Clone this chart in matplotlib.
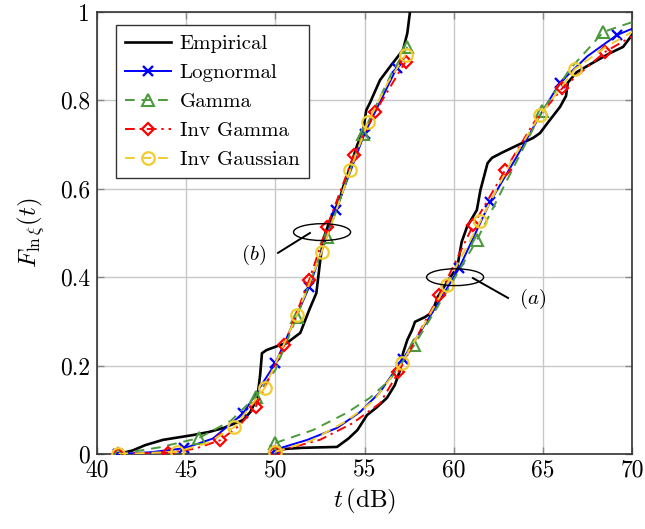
import matplotlib
matplotlib.use("Agg")
import matplotlib.pyplot as plt
from matplotlib.patches import Ellipse

plt.rcParams['font.family'] = ['cmr10', 'DejaVu Serif']
plt.rcParams['mathtext.fontset'] = 'cm'
plt.rcParams['axes.formatter.use_mathtext'] = True

# ---------------- data: curve set (b) ----------------
emp_b_x = [41.2, 42.0, 42.7, 43.7, 45.4, 46.3, 47.1, 48.2, 48.6, 49.0, 49.15, 49.25, 49.5, 50.3, 50.65, 51.0,
           51.4, 51.9, 52.3, 52.5, 52.67, 53.07, 53.6, 53.8, 54.2, 54.6, 54.9, 55.1, 55.3, 55.87, 56.5, 57.16,
           57.4, 57.55]
emp_b_y = [0.0, 0.008, 0.02, 0.032, 0.043, 0.05, 0.059, 0.077, 0.095, 0.129, 0.18, 0.228, 0.235, 0.247, 0.251,
           0.262, 0.274, 0.326, 0.364, 0.432, 0.484, 0.53, 0.575, 0.604, 0.65, 0.70, 0.726, 0.778, 0.794, 0.846,
           0.88, 0.914, 0.952, 1.0]

logn_b_x = [41.2, 43.0, 44.9, 46.5, 48.2, 50.0, 51.9, 53.4, 55.0, 56.8, 57.3]
logn_b_y = [0.0, 0.004, 0.013, 0.035, 0.092, 0.205, 0.378, 0.552, 0.725, 0.873, 0.90]
logn_b_mk = [0, 2, 4, 5, 6, 7, 8, 9]

gam_b_x = [41.2, 43.5, 45.7, 47.5, 48.9, 50.0, 51.2, 52.9, 54.9, 56.5, 57.4]
gam_b_y = [0.0, 0.015, 0.036, 0.075, 0.13, 0.19, 0.31, 0.49, 0.725, 0.86, 0.921]
gam_b_mk = [0, 2, 4, 6, 7, 8, 10]

igam_b_x = [41.2, 44.0, 45.5, 46.9, 48.0, 48.9, 50.5, 51.9, 52.9, 54.4, 55.6, 57.3]
igam_b_y = [0.0, 0.003, 0.012, 0.031, 0.065, 0.107, 0.246, 0.394, 0.514, 0.676, 0.774, 0.888]
igam_b_mk = [0, 1, 3, 5, 6, 7, 8, 9, 10, 11]

igau_b_x = [41.2, 44.5, 46.2, 47.7, 49.4, 51.2, 52.6, 54.2, 55.2, 56.3, 57.3]
igau_b_y = [0.0, 0.005, 0.025, 0.061, 0.149, 0.314, 0.457, 0.642, 0.752, 0.84, 0.903]
igau_b_mk = [0, 1, 3, 4, 5, 6, 7, 8, 10]

# ---------------- data: curve set (a) ----------------
emp_a_x = [50.0, 51.5, 53.46, 54.1, 54.6, 55.14, 55.7, 56.26, 56.7, 57.0, 57.16, 57.4, 57.66, 57.83, 58.4, 58.8,
           59.1, 59.6, 60.2, 60.45, 60.75, 61.3, 61.5, 61.9, 62.15, 62.77, 63.6, 64.45, 64.84, 65.4, 65.96, 66.3,
           66.4, 66.9, 67.8, 68.77, 69.5, 70.0]
emp_a_y = [0.01, 0.014, 0.016, 0.035, 0.054, 0.088, 0.106, 0.127, 0.156, 0.19, 0.228, 0.258, 0.28, 0.299, 0.31,
           0.321, 0.355, 0.387, 0.423, 0.48, 0.514, 0.552, 0.597, 0.658, 0.67, 0.683, 0.699, 0.715, 0.726, 0.756,
           0.785, 0.81, 0.84, 0.864, 0.885, 0.907, 0.921, 0.948]

logn_a_x = [50.0, 51.8, 53.46, 54.75, 55.87, 57.16, 58.5, 60.3, 62.04, 63.5, 64.9, 65.96, 67.5, 69.16, 70.0]
logn_a_y = [0.01, 0.032, 0.059, 0.095, 0.14, 0.215, 0.30, 0.42, 0.57, 0.67, 0.77, 0.84, 0.90, 0.948, 0.962]
logn_a_mk = [0, 5, 7, 8, 11, 13]

gam_a_x = [50.0, 52.1, 54.0, 55.3, 56.4, 57.8, 59.5, 61.3, 63.0, 64.95, 66.5, 68.4, 70.0]
gam_a_y = [0.025, 0.054, 0.093, 0.127, 0.167, 0.247, 0.36, 0.484, 0.62, 0.775, 0.87, 0.955, 0.977]
gam_a_mk = [0, 5, 7, 9, 11]

igam_a_x = [50.0, 52.5, 54.35, 55.87, 56.9, 58.0, 59.2, 61.1, 62.9, 64.5, 66.1, 68.5, 70.0]
igam_a_y = [0.005, 0.032, 0.07, 0.115, 0.185, 0.27, 0.36, 0.518, 0.643, 0.75, 0.828, 0.91, 0.945]
igam_a_mk = [0, 4, 6, 7, 8, 10, 11]

igau_a_x = [50.0, 52.0, 54.0, 55.5, 57.1, 58.3, 59.6, 61.5, 63.2, 64.85, 66.8, 68.5, 70.0]
igau_a_y = [0.005, 0.03, 0.075, 0.12, 0.206, 0.29, 0.383, 0.527, 0.66, 0.767, 0.871, 0.92, 0.955]
igau_a_mk = [0, 4, 6, 7, 9, 10]

labels = ['Empirical', 'Lognormal', 'Gamma', 'Inv Gamma', 'Inv Gaussian']
x_ticks = [40, 45, 50, 55, 60, 65, 70]
y_ticks = [0, 0.2, 0.4, 0.6, 0.8, 1.0]
y_ticklabels = ['0', '0.2', '0.4', '0.6', '0.8', '1']

# ---------------- styles ----------------
c_blue = '#0000ff'
c_green = '#4c9a3c'
c_red = '#ff0000'
c_yel = '#f0cc2e'

fig = plt.figure(figsize=(6.45, 5.29), dpi=100)
ax = fig.add_axes([97 / 645, 75 / 529, 535 / 645, 442 / 529])

emp_style = dict(color='black', lw=1.9, zorder=3)
logn_style = dict(color=c_blue, lw=1.4, ls='-', marker='x', ms=7, mew=1.7, zorder=4)
gam_style = dict(color=c_green, lw=1.4, ls=(0, (5, 3.5)), marker='^', ms=8, mew=1.5, mfc='none', zorder=5)
igam_style = dict(color=c_red, lw=1.4, ls=(0, (5, 2.5, 1.2, 2.5)), marker='D', ms=6.5, mew=1.6, mfc='none', zorder=6)
igau_style = dict(color=c_yel, lw=1.4, ls=(0, (5, 3.5)), marker='o', ms=9, mew=1.6, mfc='none', zorder=7)

ax.plot(emp_a_x, emp_a_y, label=labels[0], **emp_style)
ax.plot(emp_b_x, emp_b_y, **emp_style)
ax.plot(logn_a_x, logn_a_y, markevery=logn_a_mk, label=labels[1], **logn_style)
ax.plot(logn_b_x, logn_b_y, markevery=logn_b_mk, **logn_style)
ax.plot(gam_a_x, gam_a_y, markevery=gam_a_mk, label=labels[2], **gam_style)
ax.plot(gam_b_x, gam_b_y, markevery=gam_b_mk, **gam_style)
ax.plot(igam_a_x, igam_a_y, markevery=igam_a_mk, label=labels[3], **igam_style)
ax.plot(igam_b_x, igam_b_y, markevery=igam_b_mk, **igam_style)
ax.plot(igau_a_x, igau_a_y, markevery=igau_a_mk, label=labels[4], **igau_style)
ax.plot(igau_b_x, igau_b_y, markevery=igau_b_mk, **igau_style)

# annotations
ax.add_patch(Ellipse((52.62, 0.502), 3.2, 0.038, fill=False, ec='black', lw=1.0, zorder=8))
ax.plot([51.94, 50.15], [0.50, 0.455], color='black', lw=1.4, zorder=8)
ax.text(48.75, 0.45, r'$(b)$', fontsize=15, ha='center', va='center')

ax.add_patch(Ellipse((60.08, 0.40), 3.2, 0.038, fill=False, ec='black', lw=1.0, zorder=8))
ax.plot([61.08, 63.05], [0.398, 0.353], color='black', lw=1.4, zorder=8)
ax.text(64.45, 0.351, r'$(a)$', fontsize=15, ha='center', va='center')

ax.set_xlim(40, 70)
ax.set_ylim(0, 1)
ax.set_xticks(x_ticks)
ax.set_xticklabels([str(v) for v in x_ticks])
ax.set_yticks(y_ticks)
ax.set_yticklabels(y_ticklabels)
ax.tick_params(direction='in', length=5, width=1, color='#888888', labelsize=17,
               top=True, right=True, pad=4)
ax.tick_params(axis='y', pad=5)
ax.grid(True, color='#c8c8c8', lw=1.0)
ax.set_axisbelow(True)
for s in ax.spines.values():
    s.set_color('#333333')
    s.set_linewidth(1.2)

ax.set_xlabel(r'$t\,(\mathrm{dB})$', fontsize=18, labelpad=4)
ax.set_ylabel(r'$F_{\ln\xi}(t)$', fontsize=18, labelpad=9)

leg = ax.legend(loc='upper left', bbox_to_anchor=(0.0355, 0.9706), borderaxespad=0,
                fontsize=15, fancybox=False, framealpha=1, edgecolor='#333333',
                handlelength=2.2, handletextpad=0.4, labelspacing=0.5, borderpad=0.45)
leg.get_frame().set_linewidth(1.0)

fig.savefig('out.png', dpi=100)
